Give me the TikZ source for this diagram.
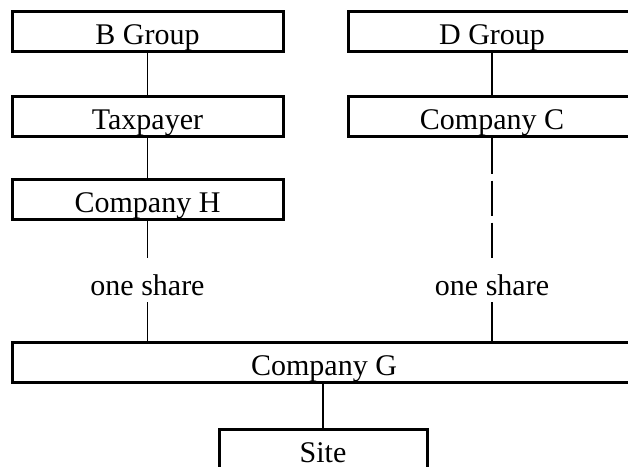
\documentclass[tikz,border=0pt]{standalone}
\usepackage{fontspec}
\setmainfont{Liberation Serif}
\begin{document}
\begin{tikzpicture}[x=1pt,y=-1pt,
  box/.style={draw=black,line width=3pt,rectangle,inner sep=0pt,
    minimum height=40pt,text height=26pt,text depth=0pt,
    font=\fontsize{30}{36}\selectfont},
  sharelabel/.style={inner sep=0pt,text height=37pt,text depth=7pt,
    font=\fontsize{30}{36}\selectfont},
  link/.style={draw=black,line width=1.4pt}]
\useasboundingbox (0,0) rectangle (628,466);
\clip (0,0) rectangle (628,466);
% left column
\node[box,minimum width=271pt] (bg) at (147.5,31) {B Group};
\node[box,minimum width=271pt] (tp) at (147.5,116) {Taxpayer};
\node[box,minimum width=271pt] (ch) at (147.5,199) {Company H};
% right column
\node[box,minimum width=288pt] (dg) at (492,31) {D Group};
\node[box,minimum width=288pt] (cc) at (492,116) {Company C};
% bottom
\node[box,minimum width=624pt] (cg) at (324,362.5) {Company G};
\node[box,minimum width=208pt,minimum height=41pt,text height=24pt,anchor=north] (site) at (323,428) {Site};
% share labels
\node[sharelabel] (s1) at (147.5,280) {one share};
\node[sharelabel] (s2) at (492,280) {one share};
% connectors
\draw[link] (bg.south) -- (tp.north);
\draw[link] (tp.south) -- (ch.north);
\draw[link] (ch.south) -- (s1.north);
\draw[link] (s1.south) -- (s1.south |- cg.north);
\draw[link] (dg.south) -- (cc.north);
\draw[link,dash pattern=on 36pt off 7pt on 35pt off 7pt] (cc.south) -- (s2.north);
\draw[link] (s2.south) -- (s2.south |- cg.north);
\draw[link] (cg.south -| site.north) -- (site.north);
\end{tikzpicture}
\end{document}
